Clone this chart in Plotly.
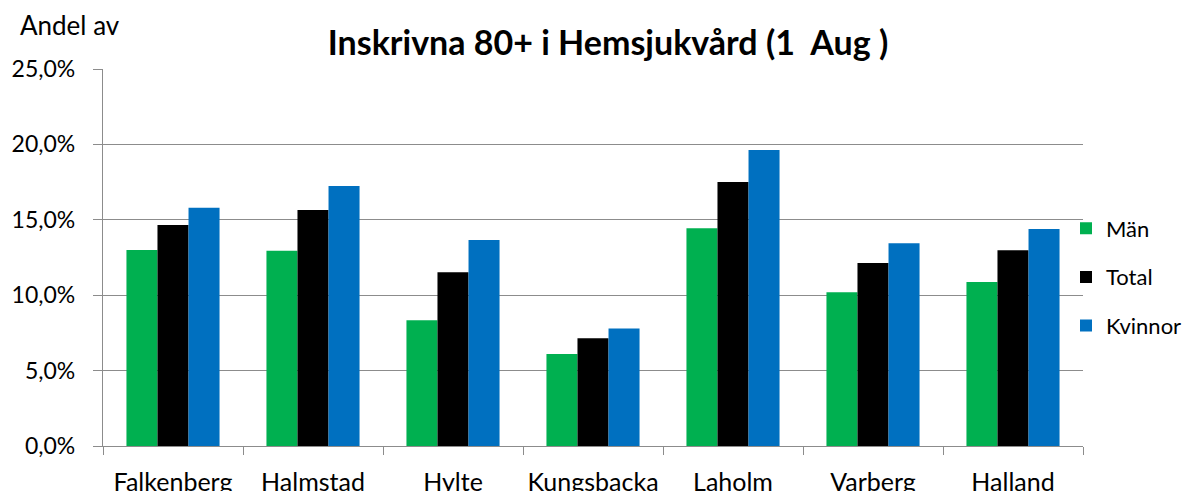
import plotly.graph_objects as go

categories = ["Falkenberg", "Halmstad", "Hylte", "Kungsbacka", "Laholm", "Varberg", "Halland"]
man = [13.0, 12.95, 8.34, 6.1, 14.44, 10.2, 10.87]
total = [14.65, 15.65, 11.52, 7.14, 17.5, 12.14, 12.98]
kvinnor = [15.8, 17.24, 13.66, 7.8, 19.63, 13.44, 14.39]
y_ticks = [0, 5, 10, 15, 20, 25]
y_tick_text = [f"{v:.1f}".replace(".", ",") + "%" for v in y_ticks]

FONT = "Lato, Carlito, Calibri, sans-serif"
OFF = 8  # page body margin

W, H = 1184, 483
PL, PR = 103, 1192          # paper extent on screen
PW = PR - PL
fig = go.Figure()
for name, vals, col in [("Män", man, "#00B050"), ("Total", total, "#000000"), ("Kvinnor", kvinnor, "#0070C0")]:
    fig.add_trace(go.Bar(x=categories, y=vals, name=name, marker_color=col,
                         marker_line_width=0, legendgroup=name))

fig.update_layout(
    width=W, height=H,
    margin=dict(l=PL - OFF, r=0, t=69 - OFF, b=OFF + H - 446),
    paper_bgcolor="white", plot_bgcolor="white",
    barmode="group", bargap=0.335, bargroupgap=0,
    font=dict(family=FONT, size=23, color="#000000"),
    title=dict(text="<b>Inskrivna 80+ i Hemsjukvård (1  Aug )</b>", x=(608 - OFF) / W, xanchor="center",
               xref="container", yref="container",
               y=1 - (43 - OFF) / H, yanchor="middle", font=dict(size=34, family=FONT)),
    legend=dict(x=(1066 - PL) / PW, xanchor="left", y=(446 - 277) / 377, yanchor="middle",
                font=dict(size=22, family=FONT), traceorder="grouped", tracegroupgap=17,
                itemwidth=30, bgcolor="rgba(0,0,0,0)"),
    showlegend=True,
)
fig.update_yaxes(range=[0, 25], tickvals=y_ticks, ticktext=y_tick_text, automargin=False,
                 showgrid=True, gridcolor="#8c8c8c", gridwidth=1.3,
                 showline=True, linecolor="#8c8c8c", linewidth=1.3,
                 ticks="outside", ticklen=9, tickcolor="#8c8c8c", ticklabelstandoff=13,
                 zeroline=False, tickfont=dict(size=23))
fig.update_xaxes(domain=[0, (1083 - PL) / PW],
                 showline=True, linecolor="#8c8c8c", linewidth=1.3, automargin=False,
                 ticks="outside", ticklen=8, tickcolor="#8c8c8c", tickson="boundaries",
                 tickangle=0, tickfont=dict(size=25), ticklabelstandoff=14)
fig.add_annotation(text="Andel av", xref="paper", yref="paper", x=-(PL - 18) / PW, y=1 + (69 - 25) / 377,
                   xanchor="left", yanchor="middle", showarrow=False,
                   font=dict(size=26, family=FONT))

fig.write_html("out.html")
